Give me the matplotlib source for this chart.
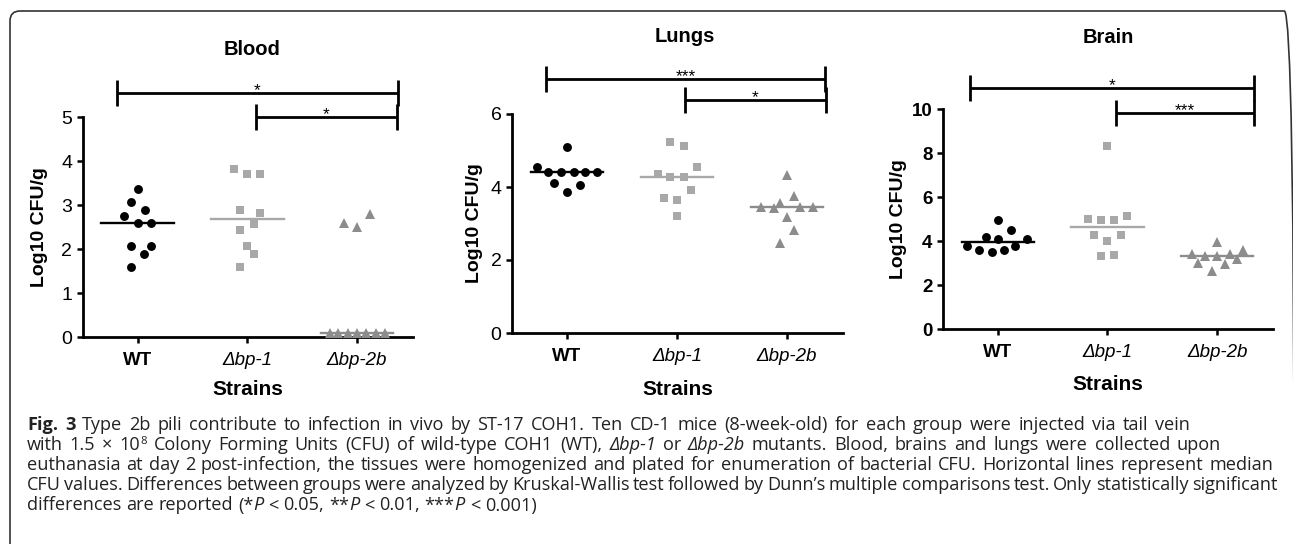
import matplotlib
matplotlib.use("Agg")
import matplotlib.pyplot as plt
from matplotlib.patches import FancyBboxPatch
from matplotlib.transforms import IdentityTransform
import numpy as np

# ---- data ----
strains = ["WT", "Δbp-1", "Δbp-2b"]

blood_wt = [3.37, 3.07, 2.89, 2.74, 2.58, 2.58, 2.06, 2.06, 1.88, 1.59]
blood_wt_dx = [0, -0.06, 0.067, -0.12, 0, 0.12, -0.06, 0.12, 0.06, -0.06]
blood_bp1 = [3.81, 3.71, 3.71, 2.89, 2.82, 2.56, 2.44, 2.06, 1.88, 1.59]
blood_bp1_dx = [-0.12, 0, 0.115, -0.067, 0.12, 0.06, -0.067, 0, 0.06, -0.067]
blood_bp2b = [2.58, 2.50, 2.79, 0.09, 0.09, 0.09, 0.09, 0.09, 0.09, 0.09]
blood_bp2b_dx = [-0.12, 0, 0.12, -0.25, -0.17, -0.085, 0, 0.085, 0.17, 0.255]

lungs_wt = [5.09, 4.56, 4.41, 4.41, 4.41, 4.41, 4.41, 4.12, 4.05, 3.86]
lungs_wt_dx = [0, -0.27, -0.17, -0.05, 0.06, 0.167, 0.27, -0.115, 0.12, 0]
lungs_bp1 = [5.24, 5.13, 4.56, 4.36, 4.27, 4.28, 3.92, 3.71, 3.65, 3.21]
lungs_bp1_dx = [-0.06, 0.06, 0.18, -0.175, -0.06, 0.06, 0.127, -0.12, 0, 0]
lungs_bp2b = [4.33, 3.74, 3.45, 3.42, 3.55, 3.45, 3.45, 3.17, 2.83, 2.46]
lungs_bp2b_dx = [0, 0.06, -0.24, -0.12, -0.06, 0.12, 0.24, 0, 0.06, -0.06]

brain_wt = [4.94, 4.52, 4.18, 4.09, 4.09, 3.79, 3.79, 3.58, 3.48, 3.58]
brain_wt_dx = [0, 0.12, -0.11, 0, 0.27, -0.28, 0.16, -0.17, -0.05, 0.06]
brain_bp1 = [8.30, 5.02, 4.97, 4.97, 5.12, 4.27, 4.27, 4.00, 3.30, 3.38]
brain_bp1_dx = [0, -0.18, -0.055, 0.06, 0.18, -0.12, 0.12, 0, -0.055, 0.06]
brain_bp2b = [3.94, 3.42, 3.30, 3.30, 3.42, 3.58, 3.00, 2.97, 3.18, 2.62]
brain_bp2b_dx = [0, -0.23, -0.11, 0, 0.12, 0.24, -0.17, 0.07, 0.18, -0.05]

# significance brackets: (from, to, level, label)
blood_sig = [(-0.19, 2.37, 5.545, "*"), (1.075, 2.36, 5.0, "*")]
lungs_sig = [(-0.19, 2.345, 6.96, "***"), (1.07, 2.355, 6.38, "*")]
brain_sig = [(-0.25, 2.34, 10.95, "*"), (1.08, 2.34, 9.82, "***")]

caption_lines = [
    [("Fig. 3", "bold"), (" Type 2b pili contribute to infection in vivo by ST-17 COH1. Ten CD-1 mice "
                          "(8-week-old) for each group were injected via tail vein", "normal")],
    [("with 1.5 \u00d7 10", "normal"), ("8", "sup"),
     (" Colony Forming Units (CFU) of wild-type COH1 (WT), ", "normal"), ("\u0394bp-1", "italic"),
     (" or ", "normal"), ("\u0394bp-2b", "italic"),
     (" mutants. Blood, brains and lungs were collected upon", "normal")],
    [("euthanasia at day 2 post-infection, the tissues were homogenized and plated for enumeration "
      "of bacterial CFU. Horizontal lines represent median", "normal")],
    [("CFU values. Differences between groups were analyzed by Kruskal-Wallis test followed by "
      "Dunn\u2019s multiple comparisons test. Only statistically significant", "normal")],
    [("differences are reported (*", "normal"), ("P", "italic"), (" < 0.05, **", "normal"),
     ("P", "italic"), (" < 0.01, ***", "normal"), ("P", "italic"), (" < 0.001)", "normal")],
]

# ---- styling ----
W, H = 1293, 544
PANEL_FONT = "Liberation Sans"
CAP_FONT = "Open Sans"
COLORS = ["#000000", "#a8a8a8", "#8c8c8c"]
MARKERS = [("o", 6.4), ("s", 6.0), ("^", 6.8)]

fig = plt.figure(figsize=(W / 100, H / 100), dpi=100)


def px_rect(x0, y_top, x1, y_bot):
    return [x0 / W, 1 - y_bot / H, (x1 - x0) / W, (y_bot - y_top) / H]


def panel(rect, title, title_xy, groups, ylim, yticks, sig, bold_ticks, ylab_x, xlab_y):
    ax = fig.add_axes(rect)
    for i, (vals, dx) in enumerate(groups):
        m, ms = MARKERS[i]
        ax.plot(np.array(dx) + i, vals, linestyle="none", marker=m, markersize=ms,
                color=COLORS[i], markeredgewidth=0, clip_on=False, zorder=3)
        med = np.median(vals)
        ax.plot([i - 0.33, i + 0.33], [med, med], color=COLORS[i], lw=1.7, zorder=4,
                clip_on=False)
    ax.set_xlim(-0.5, 2.51)
    ax.set_ylim(*ylim)
    ax.set_yticks(yticks)
    ax.set_xticks(range(len(strains)))
    ax.set_xticklabels(strains, fontfamily=PANEL_FONT, fontsize=13.5)
    for i, lab in enumerate(ax.get_xticklabels()):
        if i == 0:
            lab.set_fontweight("bold")
        else:
            lab.set_fontstyle("italic")
    for lab in ax.get_yticklabels():
        lab.set_fontfamily(PANEL_FONT)
        lab.set_fontsize(14 if not bold_ticks else 13.5)
        lab.set_fontweight("bold" if bold_ticks else "normal")
    for s in ("top", "right"):
        ax.spines[s].set_visible(False)
    for s in ("left", "bottom"):
        ax.spines[s].set_linewidth(2.0)
    ax.tick_params(axis="both", width=1.8, length=4.5, color="black")
    ax.tick_params(axis="x", pad=6.5)
    ax.tick_params(axis="y", pad=3)
    ax.set_ylabel("Log10 CFU/g", fontfamily=PANEL_FONT, fontweight="bold", fontsize=14)
    ax.yaxis.set_label_coords(ylab_x, 0.5)
    ax.set_xlabel("Strains", fontfamily=PANEL_FONT, fontweight="bold", fontsize=15)
    ax.xaxis.set_label_coords(0.5, xlab_y)
    ax.text(title_xy[0], title_xy[1], title, transform=ax.transAxes, ha="center", va="center",
            fontfamily=PANEL_FONT, fontweight="bold", fontsize=14.5)

    # brackets: half-height of end ticks is ~13 px
    yspan = ylim[1] - ylim[0]
    axh = rect[3] * H
    hh = 13.0 / axh * yspan
    for x0, x1, y, lab in sig:
        ax.plot([x0, x1], [y, y], color="black", lw=2.0, clip_on=False, solid_capstyle="butt")
        for xe in (x0, x1):
            ax.plot([xe, xe], [y - hh, y + hh], color="black", lw=2.0, clip_on=False,
                    solid_capstyle="butt")
        ax.annotate(lab, xy=((x0 + x1) / 2, y), xytext=(0, -1.5), textcoords="offset points",
                    ha="center", va="baseline", fontsize=12.5, fontfamily=PANEL_FONT,
                    annotation_clip=False)
    return ax


panel(px_rect(82.7, 117, 413, 337), "Blood", (0.513, 1.309),
      [(blood_wt, blood_wt_dx), (blood_bp1, blood_bp1_dx), (blood_bp2b, blood_bp2b_dx)],
      (0, 5), range(0, 6), blood_sig, False, -0.105, -0.195)
panel(px_rect(512, 114, 843, 333), "Lungs", (0.523, 1.352),
      [(lungs_wt, lungs_wt_dx), (lungs_bp1, lungs_bp1_dx), (lungs_bp2b, lungs_bp2b_dx)],
      (0, 6), range(0, 7, 2), lungs_sig, False, -0.088, -0.215)
panel(px_rect(943, 109, 1273, 329), "Brain", (0.5, 1.327),
      [(brain_wt, brain_wt_dx), (brain_bp1, brain_bp1_dx), (brain_bp2b, brain_bp2b_dx)],
      (0, 10), range(0, 11, 2), brain_sig, True, -0.108, -0.209)

# frame around figure + caption, in pixels; it runs off the right and bottom edges
frame = FancyBboxPatch((10, -30), 1294.3 - 10, (H - 11) + 30,
                       boxstyle="round,pad=0,rounding_size=10",
                       transform=IdentityTransform(), fill=False, edgecolor="#333333",
                       linewidth=1.2, clip_on=False)
fig.patches.append(frame)

# caption, drawn word by word so each line can end where the original does
renderer = fig.canvas.get_renderer()
CAP_SIZE = 13.1
CAP_LEFT = 27.0
line_ends = [1190, 1221, 1273, 1277, None]
baselines = [430, 450, 470, 490.5, 510.5]


def run_kw(style):
    kw = dict(fontfamily=CAP_FONT, fontsize=CAP_SIZE, color="#222222")
    if style == "bold":
        kw["fontweight"] = "bold"
    elif style == "italic":
        kw["fontstyle"] = "italic"
    elif style == "sup":
        kw["fontsize"] = CAP_SIZE * 0.62
    return kw


def run_width(s, kw):
    t1 = fig.text(0, 0, "x" + s + "x", **kw)
    t2 = fig.text(0, 0, "xx", **kw)
    w = t1.get_window_extent(renderer).width - t2.get_window_extent(renderer).width
    t1.remove()
    t2.remove()
    return w


natural_space = run_width(" ", run_kw("normal"))

for runs, base, end in zip(caption_lines, baselines, line_ends):
    tokens = []
    for s, style in runs:
        for k, part in enumerate(s.split(" ")):
            if k > 0:
                tokens.append(None)
            if part:
                tokens.append((part, style, run_width(part, run_kw(style))))
    n_sp = sum(1 for t in tokens if t is None)
    words_w = sum(t[2] for t in tokens if t is not None)
    space = natural_space if end is None else (end - CAP_LEFT - words_w) / n_sp
    space = max(space, 0.55 * natural_space)
    x = CAP_LEFT
    for t in tokens:
        if t is None:
            x += space
            continue
        part, style, w = t
        yb = base - (6 if style == "sup" else 0)
        fig.text(x / W, 1 - yb / H, part, ha="left", va="baseline", **run_kw(style))
        x += w

fig.savefig("out.png", dpi=100)
